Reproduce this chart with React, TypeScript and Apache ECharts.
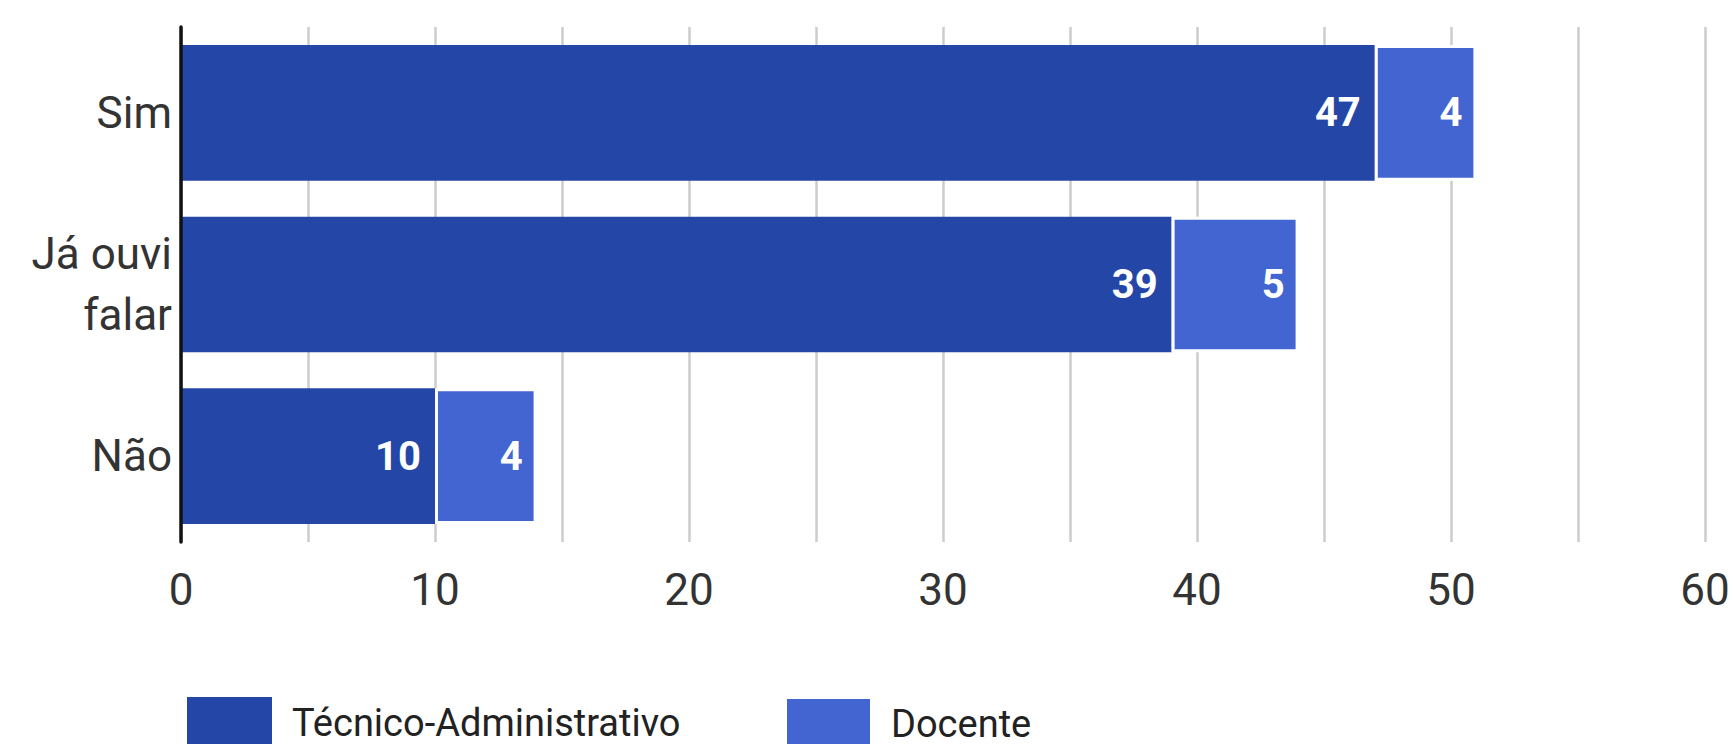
import React, { useEffect, useRef } from "react";
import * as echarts from "echarts";

const categories = ["Sim", "Já ouvi\nfalar", "Não"];
const tecnico = [47, 39, 10];
const docente = [4, 5, 4];
const seriesNames = ["Técnico-Administrativo", "Docente"];
const xTicks = [0, 10, 20, 30, 40, 50, 60];

export default function App() {
  const ref = useRef<HTMLDivElement>(null);
  useEffect(() => {
    if (!ref.current) return;
    const chart = echarts.init(ref.current, null, { renderer: "svg" });
    const font = "Roboto, Arial, sans-serif";
    const labelStyle = {
      show: true,
      position: "insideRight" as const,
      distance: 14,
      color: "#ffffff",
      fontWeight: "bold" as const,
      fontSize: 40,
      fontFamily: font,
    };
    const legendText = {
      fontSize: 38,
      lineHeight: 36,
      color: "#222",
      fontFamily: font,
      padding: [0, 0, 0, 15],
    };
    chart.setOption({
      animation: false,
      backgroundColor: "#ffffff",
      grid: { left: 181, right: 28, top: 27, bottom: 202, containLabel: false },
      legend: [
        {
          data: [seriesNames[0]],
          left: 182,
          top: 692,
          icon: "rect",
          itemWidth: 85,
          itemHeight: 52,
          textStyle: legendText,
        },
        {
          data: [seriesNames[1]],
          left: 780,
          top: 692,
          icon: "rect",
          itemWidth: 85,
          itemHeight: 52,
          textStyle: legendText,
        },
      ],
      xAxis: {
        type: "value",
        min: 0,
        max: 60,
        interval: 5,
        axisLine: { show: false },
        axisTick: { show: false },
        splitLine: { show: true, lineStyle: { color: "#cccccc", width: 2.5 } },
        axisLabel: {
          fontSize: 44,
          lineHeight: 40,
          color: "#333",
          fontFamily: font,
          margin: 28,
          formatter: (v: number) => (xTicks.includes(v) ? String(v) : ""),
        },
      },
      yAxis: {
        type: "category",
        data: categories,
        inverse: true,
        z: 10,
        axisLine: { show: true, lineStyle: { color: "#111", width: 3.5 } },
        axisTick: { show: false },
        axisLabel: {
          fontSize: 44,
          lineHeight: 61,
          color: "#333",
          fontFamily: font,
          margin: 9,
          align: "right",
        },
      },
      series: [
        {
          name: seriesNames[0],
          type: "bar",
          stack: "total",
          data: tecnico,
          barCategoryGap: "21%",
          itemStyle: { color: "#2447a7" },
          label: labelStyle,
        },
        {
          name: seriesNames[1],
          type: "bar",
          stack: "total",
          data: docente,
          barCategoryGap: "21%",
          itemStyle: { color: "#4265d1", borderColor: "#ffffff", borderWidth: 3 },
          label: labelStyle,
        },
      ],
    });
    return () => chart.dispose();
  }, []);
  return (
    <div
      ref={ref}
      style={{ position: "fixed", left: 0, top: 0, width: 1733, height: 744 }}
    />
  );
}
